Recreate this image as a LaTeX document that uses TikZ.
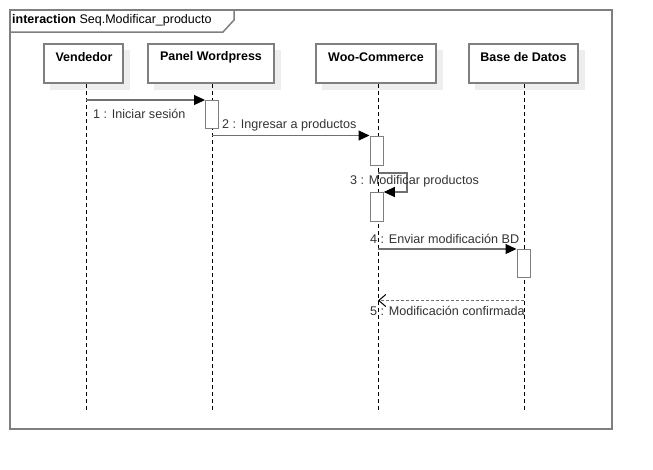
\documentclass[tikz,border=0pt]{standalone}
\usepackage{fontspec}
\setmainfont{Liberation Sans}
\usetikzlibrary{arrows.meta,calc}
\definecolor{fgray}{HTML}{7F7F7F}
\definecolor{lgray}{HTML}{707070}
\definecolor{shd}{HTML}{EEEEEE}
\definecolor{txt}{HTML}{333333}
\tikzset{
  frm/.style={draw=fgray, line width=1.5pt},
  head/.style={draw=fgray, line width=1.3pt, fill=white, inner sep=0pt},
  headtxt/.style={font=\fontsize{12.5}{14}\selectfont\bfseries, text=black, inner sep=0pt},
  act/.style={draw=fgray, line width=1.3pt, fill=white, inner sep=0pt, minimum width=13pt, anchor=north west},
  life/.style={draw=black, line width=0.9pt, dash pattern=on 4pt off 3pt},
  msg/.style={draw=lgray, line width=1.2pt, -{Triangle[length=11pt,width=10pt,color=black,fill=black]}},
  rmsg/.style={draw=lgray, line width=1pt, dash pattern=on 3pt off 2pt, -{Straight Barb[length=7pt,width=12pt,color=black]}},
  lbl/.style={font=\fontsize{12.6}{14}\selectfont, text=txt, inner sep=0pt, anchor=west},
}
\begin{document}
\begin{tikzpicture}[x=1pt,y=-1pt]
\useasboundingbox (0,0) rectangle (653,469);
% frame
\draw[frm] (10,10) rectangle (612,429);
\draw[frm, fill=white] (10,10) -- (234,10) -- (234,20) -- (223,32) -- (10,32) -- cycle;
\node[anchor=west, inner sep=0pt, font=\fontsize{12.5}{14}\selectfont] (title) at (12,20.5) {\textbf{interaction} Seq.Modificar\_producto};
% shadows
\fill[shd] (50,50) rectangle (130,90);
\fill[shd] (154,50) rectangle (281,90);
\fill[shd] (322,50) rectangle (443,90);
\fill[shd] (475,50) rectangle (585,90);
% heads
\node[head, minimum width=79pt, minimum height=39pt] (v) at (83.5,63.5) {};
\node[head, minimum width=126pt, minimum height=39pt] (p) at (211,63.5) {};
\node[head, minimum width=120pt, minimum height=39pt] (w) at (376,63.5) {};
\node[head, minimum width=109pt, minimum height=39pt] (b) at (523.5,63.5) {};
\node[headtxt] (vt) at (84,57) {Vendedor};
\node[headtxt] (pt) at (211,57) {Panel Wordpress};
\node[headtxt] (wt) at (376,57) {Woo-Commerce};
\node[headtxt] (bt) at (523.5,57) {Base de Datos};
% lifeline coordinates
\coordinate (vs) at (86,84); \coordinate (ve) at (86,412);
\coordinate (ps) at (212,84); \coordinate (pe) at (212,412);
\coordinate (ws) at (378,84); \coordinate (we) at (378,412);
\coordinate (bs) at (524,84); \coordinate (be) at (524,412);
\draw[life] (vs) -- (ve);
\draw[life] (ps) -- (pe);
\draw[life] (ws) -- (we);
\draw[life] (bs) -- (be);
% activations
\node[act, minimum height=28pt] (a1) at (205,100) {};
\node[act, minimum height=29pt] (a2) at (369.5,135.5) {};
\node[act, minimum height=29pt] (a3) at (369.5,192) {};
\node[act, minimum height=28pt] (a4) at (516.5,249) {};
% message coordinates
\coordinate (m1s) at (86,100);
\coordinate (m2s) at (212,135.5);
\coordinate (m3s) at (378,173);
\coordinate (m3c) at (407,173);
\coordinate (m3d) at (407,192);
\coordinate (m4s) at (378,249);
\coordinate (m5s) at (524,300.5);
\coordinate (m5e) at (378,300.5);
% messages
\draw[msg] (m1s) -- (a1.north west);
\draw[msg] (m2s) -- (a2.north west);
\draw[msg] (m3s) -- (m3c) -- (m3d) -- (a3.north east);
\draw[msg] (m4s) -- (a4.north west);
\draw[rmsg] (m5s) -- (m5e);
% labels
\node[lbl] (l1) at (93,114) {1 : Iniciar sesión};
\node[lbl] (l2) at (222,125) {2 : Ingresar a productos};
\node[lbl] (l3) at (350,181.5) {3 : Modificar productos};
\node[lbl] (l4) at (370,239) {4 : Enviar modificación BD};
\node[lbl] (l5) at (370,310.5) {5 : Modificación confirmada};
\end{tikzpicture}
\end{document}
